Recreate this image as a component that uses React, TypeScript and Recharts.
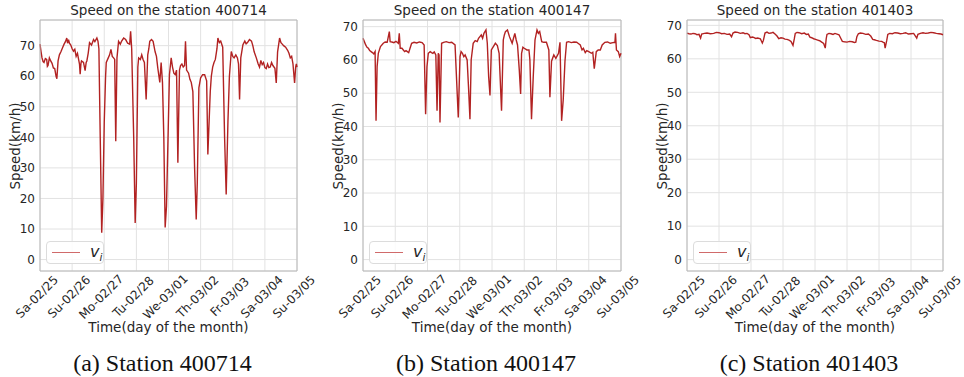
import { LineChart, Line, XAxis, YAxis, CartesianGrid, ReferenceLine } from 'recharts';

// x axis: hours since Sa-02/25 00:00, one tick per day
const dayTicks = [0, 24, 48, 72, 96, 120, 144, 168, 192];
const dayLabels = ['Sa-02/25', 'Su-02/26', 'Mo-02/27', 'Tu-02/28', 'We-03/01', 'Th-03/02', 'Fr-03/03', 'Sa-03/04', 'Su-03/05'];
const speedTicks = [0, 10, 20, 30, 40, 50, 60, 70];

// station 400714
const hours400714 = [
  0, 0.8, 1.5, 2.3, 3, 4, 5, 5.5, 6, 7, 8, 9, 10, 11, 12, 12.6, 13.5, 14.5, 15.7, 17, 18, 19, 20, 20.6, 21.3, 22, 23, 24, 25, 26, 27, 28, 29.5, 30, 30.6, 31, 32.5,
  33.7, 34.5, 35, 36, 37, 38.5, 40, 41, 42.5, 43.3, 44, 45, 46.1, 47, 48, 49, 49.5, 51, 52, 53, 54, 55, 55.8, 56.6, 57.5, 58.7, 60, 61, 62.5, 64, 65.5, 67,
  67.7, 68.5, 70, 71.1, 72, 73.1, 73.7, 75, 76, 77, 78, 79.3, 80.5, 81.3, 82, 83.3, 84.5, 86, 87, 88, 89.5, 90.5, 91.5, 92.5, 93.5, 94.5, 96.7, 98, 99, 100,
  101, 102, 103, 104.2, 105, 106, 107, 108, 108.7, 109.5, 111, 112, 113, 114.2, 115.5, 116.7, 117.5, 118.7, 120, 121.5, 123, 124.5, 125.4, 127.2, 128,
  129, 130, 131, 132.2, 132.9, 134, 135, 136.5, 137.9, 139.1, 140.4, 141.5, 142.9, 144, 145, 146.3, 147.5, 148.3, 149.1, 150, 151.6, 153, 154, 155, 156.5,
  158, 159, 160, 161.6, 163, 164, 165, 166, 167, 168, 169, 170, 171, 172, 173, 174, 175.5, 176.5, 177.5, 179, 180, 181, 182, 183.5, 185, 186, 187, 188,
  189, 190.2, 191, 191.5, 192,
];
const speed400714 = [
  70.5, 68, 66, 64.8, 64.5, 65.8, 65.5, 63.2, 63.5, 66, 65, 64.2, 62.7, 62.5, 60, 59.2, 65, 67, 68.1, 69.5, 70.5, 71.3, 72.5, 70.8, 72, 70.8, 70.2, 69,
  68.2, 68.8, 66.5, 67.5, 64, 60.7, 64.2, 65, 64.5, 61.8, 64.5, 65, 67.5, 71, 70.2, 72, 71.3, 72.5, 71.5, 69, 40, 8.8, 20, 45, 60, 64.5, 66, 67, 68.8,
  66.5, 66, 65.5, 38.7, 66, 71.4, 70.5, 71.5, 72.5, 72, 70.8, 70.5, 74.7, 69, 40, 12, 25, 63, 66, 65.5, 67, 65.5, 64.5, 52.4, 67, 69, 71.4, 72, 71.4, 68,
  66.5, 62.7, 58, 64.5, 58, 40, 10.5, 17.5, 60.5, 66, 63, 61, 60.5, 62, 31.7, 62, 63.5, 64, 63, 63.5, 71.4, 62, 61, 59, 58, 55, 30, 13.1, 25, 56.2, 59.5,
  60.5, 60.5, 58.5, 34.4, 55, 60, 63, 64.5, 65.5, 69, 72.5, 71, 71.5, 69.5, 40, 21.3, 45, 60, 68.1, 66.5, 66, 67, 66, 64, 52.4, 66, 70.3, 71.5, 70.6,
  71, 72, 71.5, 70, 68, 66, 64, 63, 65.2, 63.8, 64.5, 62.8, 62.5, 64, 62.8, 63, 64.5, 63.5, 62.6, 57.8, 68, 72.5, 71, 70.5, 70, 69.5, 68.5, 67.5, 66,
  66.5, 64, 57.8, 63, 64, 63,
];

// station 400147
const hours400147 = [
  0, 1, 2, 3, 4, 5, 6, 7, 8, 9, 9.7, 10.5, 11.4, 13, 15.1, 16.5, 18, 19.6, 20.2, 21.5, 23, 24.5, 26.3, 27, 27.7, 29, 30, 31, 32, 33, 34, 35, 36.2, 38,
  40, 42, 44, 45.5, 46.6, 47.6, 48.6, 50, 51, 52, 53, 54.2, 55.1, 56, 56.6, 57.3, 58.5, 60, 62, 64, 66, 68.5, 70.9, 72.2, 73, 74, 75, 76, 77.5, 78.5,
  79.6, 80.5, 82, 83.5, 85, 86, 87, 88, 89, 90, 91.5, 92.5, 93.5, 94.5, 95.5, 97, 98.5, 100, 101.3, 103.1, 104.4, 105.2, 106, 107.5, 109, 110, 111, 112,
  113, 114, 115, 116.3, 117.3, 118, 119, 120, 122, 123.5, 124.2, 125.4, 126.7, 128, 129.5, 130.5, 131.5, 133, 134.5, 136.5, 138.3, 139.1, 140.3, 142,
  143.5, 145.5, 146.6, 147.8, 149, 150.3, 151.5, 153, 155, 157, 159, 160, 161.7, 163, 164, 165.4, 166.5, 168, 170, 171, 172.1, 173.6, 175, 176.6, 178,
  180, 182, 184, 186, 187.5, 187.9, 188.6, 190, 191, 192,
];
const speed400147 = [
  66.5, 65.5, 64.5, 63.8, 63.5, 62.8, 62.5, 62.2, 61.8, 62.5, 41.7, 58, 62, 64, 65, 65.4, 65.3, 68.5, 65.5, 65.4, 65.2, 65.6, 65, 68, 63.5, 63.5, 63,
  62.5, 62.8, 62.5, 62.2, 63.5, 65, 65.3, 65.1, 65.4, 65.2, 64.5, 43.7, 58, 62, 62.5, 62.2, 62, 62.4, 61.5, 44.7, 62, 61.5, 41.2, 65, 65.3, 65.5, 65.2,
  65.3, 64.5, 42.7, 61, 62.5, 62, 61, 61.5, 60, 52, 42.2, 60, 65, 65.8, 65.5, 66.5, 67, 67.5, 66.5, 68, 69, 65, 55, 49.3, 63, 64, 65, 64.3, 62, 44.7,
  66, 67.5, 68.5, 69, 67, 66, 65, 66.5, 68, 66, 64.5, 57, 49.8, 62, 63.8, 63.5, 63, 63, 60, 42.2, 55, 66, 69, 68, 68.5, 65.5, 65.3, 65.3, 63, 48.8,
  59.6, 61.5, 60.5, 62, 65.3, 41.7, 48, 59.6, 65.3, 65.5, 65.2, 65.4, 65.3, 65, 64.5, 63, 63.5, 62.2, 62.8, 62.5, 62, 62.3, 57.4, 62.5, 63, 63, 64.5,
  65.3, 65.4, 65, 65.2, 65.3, 68, 63, 62.5, 61, 62,
];

// station 401403
const hours401403 = [
  0, 1.5, 3, 4.5, 6, 7.5, 9, 10.2, 11, 13, 15, 17.5, 20, 22, 24, 26, 28, 30, 32, 33.4, 34.5, 36, 38, 40, 42, 43.5, 45, 46.5, 47.5, 49, 50, 51.5, 53,
  55, 56.5, 57.3, 58.5, 60, 61.5, 63, 64.5, 66, 67.5, 68.8, 70.5, 72, 73.5, 75, 76.5, 78, 79.5, 80.5, 81.2, 82.5, 84, 86, 88, 89.5, 91, 92.2, 93.5, 95,
  96.5, 98, 99.5, 101, 102.5, 103.7, 104.4, 105, 106.5, 108, 109.5, 111, 112.5, 114, 115.5, 116.5, 118, 120, 122, 124, 125.5, 126.6, 127.4, 128.5, 130,
  132, 134, 136, 137.8, 139.3, 140.5, 142, 144, 146, 147.3, 148, 148.6, 149.8, 150.6, 152, 154, 156, 158, 160, 162, 164, 166, 168, 170, 172.3, 173.2,
  175, 177, 179, 181, 183, 185, 187, 189, 190.5, 192,
];
const speed401403 = [
  67.7, 67.5, 67.4, 67.6, 67.5, 67.2, 67.3, 66.2, 67.4, 67.6, 67.7, 67.5, 67.6, 67.9, 67.8, 67.5, 67.6, 67.3, 67.4, 66.6, 67.7, 68, 67.9, 67.6, 67.8,
  67.5, 67.6, 67.2, 66.3, 66.5, 66.4, 66.1, 66.2, 66, 64.7, 65.5, 67.7, 68, 67.6, 67.7, 67.9, 67.4, 66.8, 66, 66.3, 66.2, 65.9, 65.8, 65.6, 65.2, 64,
  66, 67.6, 67.9, 67.8, 67.5, 67.7, 67.3, 67.4, 66.5, 66.3, 66, 65.8, 65.6, 65.4, 65, 64.6, 63.2, 66, 67.3, 67.6, 67.5, 67.3, 67.6, 67.4, 67.2, 66,
  65.2, 65.1, 65, 65.2, 65.1, 64.9, 65, 66.6, 67.5, 67.7, 67.6, 67.3, 67.4, 66.8, 65.8, 65.7, 65.5, 65.3, 65.2, 64.9, 64.8, 63.2, 65.5, 67.3, 67.6,
  67.5, 67.8, 67.7, 67.5, 67.6, 67.8, 67.4, 67.5, 67.6, 66.2, 67.3, 67.6, 67.8, 67.6, 67.7, 67.9, 67.8, 67.6, 67.5, 67.4, 67.2,
];

const SANS = '"DejaVu Sans", sans-serif';
const INK = '#262626';
const RED = '#b22222';
const SPINE = '#b8b8b8';
const GRID = '#e2e2e2';

function DayTick({ x, y, payload }: any) {
  const label = dayLabels[Math.round(payload.value / 24)] ?? '';
  // matplotlib centres the rotated label box under the tick
  const half = ((label.length * 6.6 + 9) * 0.707) / 2;
  return (
    <text
      x={0}
      y={0}
      transform={`translate(${x - 3},${y + 4 + half}) rotate(-45)`}
      textAnchor="middle"
      dominantBaseline="central"
      fontSize={12}
      fontFamily={SANS}
      fill={INK}
    >
      {label}
    </text>
  );
}

interface PanelProps {
  left: number;
  plotRight: number;
  title: string;
  caption: string;
  hours: number[];
  speeds: number[];
  domain: [number, number];
}

function Panel({ left, plotRight, title, caption, hours, speeds, domain }: PanelProps) {
  const data = hours.map((t, i) => ({ t, v: speeds[i] }));
  const plotLeft = left + 40;
  const mid = (plotLeft + plotRight) / 2;
  const extra = 30; // room for the last rotated tick label
  return (
    <>
      <div
        style={{
          position: 'absolute',
          left: plotLeft - 20,
          width: plotRight - plotLeft + 40,
          top: 3,
          lineHeight: '15px',
          fontSize: 13.5,
          fontFamily: SANS,
          color: INK,
          textAlign: 'center',
        }}
      >
        {title}
      </div>
      <div style={{ position: 'absolute', left, top: 0 }}>
        <LineChart
          width={plotRight - left + extra}
          height={377}
          data={data}
          margin={{ top: 20, right: extra, bottom: 0, left: 0 }}
        >
          <CartesianGrid stroke={GRID} strokeWidth={1} />
          <XAxis
            dataKey="t"
            type="number"
            domain={[0, 192]}
            ticks={dayTicks}
            height={106}
            tickSize={0}
            tickMargin={0}
            axisLine={{ stroke: SPINE }}
            tickLine={false}
            tick={<DayTick />}
            interval={0}
            label={{ value: 'Time(day of the month)', position: 'insideBottom', offset: 45, fontSize: 13.5, fontFamily: SANS, fill: INK }}
          />
          <YAxis
            type="number"
            domain={domain}
            ticks={speedTicks}
            width={40}
            tickSize={0}
            tickMargin={5}
            tickLine={false}
            axisLine={{ stroke: SPINE }}
            tick={{ fontSize: 12, fontFamily: SANS, fill: INK }}
          />
          <ReferenceLine y={domain[1]} stroke={SPINE} />
          <ReferenceLine x={192} stroke={SPINE} />
          <Line type="linear" dataKey="v" stroke={RED} strokeWidth={1.4} dot={false} isAnimationActive={false} />
        </LineChart>
      </div>
      <div
        style={{
          position: 'absolute',
          left: left + 15 - 60,
          top: 145.5 - 9,
          width: 120,
          height: 18,
          lineHeight: '18px',
          textAlign: 'center',
          transform: 'rotate(-90deg)',
          fontSize: 13.5,
          fontFamily: SANS,
          color: INK,
        }}
      >
        Speed(km/h)
      </div>
      <div
        style={{
          position: 'absolute',
          left: plotLeft + 6,
          top: 241,
          width: 58,
          height: 23,
          boxSizing: 'border-box',
          border: '1px solid #dcdcdc',
          borderRadius: 4,
          background: 'rgba(255,255,255,0.85)',
        }}
      >
        <div style={{ position: 'absolute', left: 5, top: 10, width: 28, height: 0, borderTop: '1.5px solid #d06a6a' }} />
        <div style={{ position: 'absolute', left: 43, top: 0, fontSize: 16, fontFamily: SANS, fontStyle: 'italic', color: INK, lineHeight: '19px' }}>
          v<sub style={{ fontSize: 10.5 }}>i</sub>
        </div>
      </div>
      <div
        style={{
          position: 'absolute',
          left: mid - 6 - 120,
          width: 240,
          top: 351,
          lineHeight: '25px',
          fontSize: 24,
          fontFamily: '"Liberation Serif", serif',
          color: '#111',
          textAlign: 'center',
        }}
      >
        {caption}
      </div>
    </>
  );
}

export default function App() {
  return (
    <div style={{ position: 'absolute', left: 0, top: 0, width: 964, height: 377, background: '#fff', overflow: 'hidden' }}>
      <Panel left={0} plotRight={297} title="Speed on the station 400714" caption="(a) Station 400714" hours={hours400714} speeds={speed400714} domain={[-3.74, 78.4]} />
      <Panel left={323} plotRight={621} title="Speed on the station 400147" caption="(b) Station 400147" hours={hours400147} speeds={speed400147} domain={[-3.43, 72.0]} />
      <Panel left={647} plotRight={943} title="Speed on the station 401403" caption="(c) Station 401403" hours={hours401403} speeds={speed401403} domain={[-3.4, 71.6]} />
    </div>
  );
}
